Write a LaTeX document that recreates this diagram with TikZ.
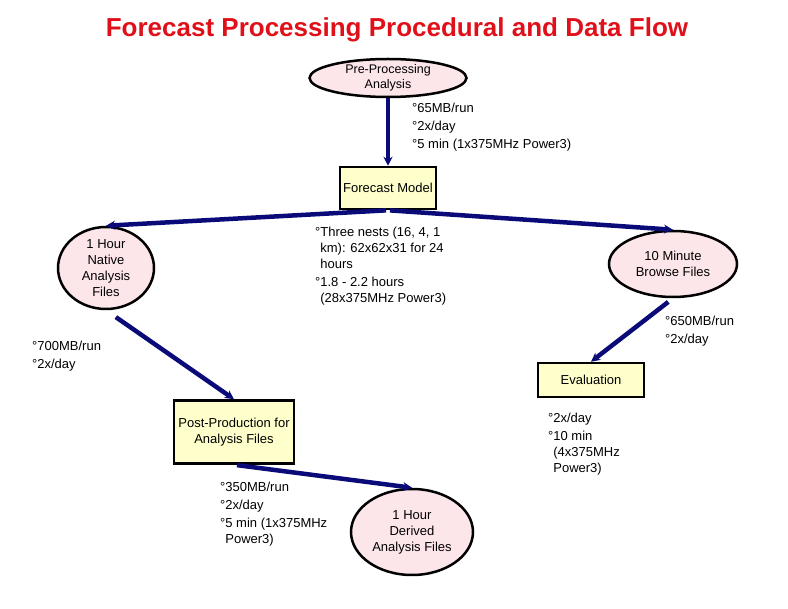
\documentclass[tikz,border=0pt]{standalone}
\usepackage{xcolor}
\usepackage{fontspec}
\setmainfont{Liberation Sans}
\usepackage{tikz}
\usetikzlibrary{positioning,shapes.geometric,arrows.meta}

\definecolor{flowblue}{HTML}{0A0A78}
\definecolor{filepink}{HTML}{FDE6EA}
\definecolor{stepyellow}{HTML}{FFFFCC}
\definecolor{titlered}{HTML}{E0101A}

\begin{document}
\begin{tikzpicture}[
    x=1pt, y=-1pt, font=\fontsize{13}{16}\selectfont,
    filenode/.style ={ellipse,   draw=black, line width=2.5pt, fill=filepink,   inner sep=0pt, align=center},
    procbox/.style  ={rectangle, draw=black, line width=2.5pt, fill=stepyellow, inner sep=0pt, align=center},
    flow/.style     ={draw=flowblue, line width=4.5pt, -{Stealth[length=9pt,width=9pt]}},
    note/.style     ={anchor=north west, inner sep=0pt, align=left, font=\fontsize{13}{18}\selectfont},
  ]
  % ---- page frame: pixel coordinates, y downwards ----
  \useasboundingbox (0,0) rectangle (788,609);
  \node[font=\bfseries\fontsize{26}{30}\selectfont, text=titlered] (title) at (397,30)
    {Forecast Processing Procedural and Data Flow};

  % ---- processing steps (boxes) and files (ellipses) ----
  \node[filenode, minimum width=157, minimum height=38, font=\fontsize{12.5}{15}\selectfont] (pre) at (388,78) {Pre-Processing\\Analysis};
  \node[procbox,  minimum width=96,  minimum height=42] (fm)      at (388,188) {Forecast Model};
  \node[filenode, minimum width=96,  minimum height=82] (native)  at (106,268) {1 Hour\\Native\\Analysis\\Files};
  \node[filenode, minimum width=128, minimum height=66] (browse)  at (673,264) {10 Minute\\Browse Files};
  \node[procbox,  minimum width=106, minimum height=34] (eval)    at (591,380) {Evaluation};
  \node[procbox,  minimum width=120, minimum height=63] (post)    at (234,432) {Post-Production for\\Analysis Files};
  \node[filenode, minimum width=122, minimum height=86] (derived) at (412,532) {1 Hour\\Derived\\Analysis Files};

  % ---- data flow ----
  \draw[flow] (pre) -- (fm);
  \draw[flow, shorten <=2pt] (fm.south) -- (native.north);
  \draw[flow, shorten <=2pt] (fm.south) -- (browse.north);
  \draw[flow, shorten <=6pt] (browse.south) -- (eval.north);
  \draw[flow, shorten <=12pt] (native.south) -- (post.north);
  \draw[flow, shorten <=3pt] (post.south) -- (derived.north);

  % ---- size / timing notes ----
  \node[note] (n65)   at (412,103) {°65MB/run\\°2x/day\\°5 min (1x375MHz Power3)};
  \node[note] (nests) at (315,227) {°Three nests (16, 4, 1\\[-2pt]\hphantom{°}km): 62x62x31 for 24\\[-2pt]\hphantom{°}hours\\°1.8 - 2.2 hours\\[-2pt]\hphantom{°}(28x375MHz Power3)};
  \node[note] (n700)  at (32,341)  {°700MB/run\\°2x/day};
  \node[note] (n650)  at (665,316) {°650MB/run\\°2x/day};
  \node[note] (neval) at (548,413) {°2x/day\\°10 min\\[-2pt]\hphantom{°}(4x375MHz\\[-2pt]\hphantom{°}Power3)};
  \node[note] (n350)  at (220,482) {°350MB/run\\°2x/day\\°5 min (1x375MHz\\[-2pt]\hphantom{°}Power3)};
\end{tikzpicture}
\end{document}
